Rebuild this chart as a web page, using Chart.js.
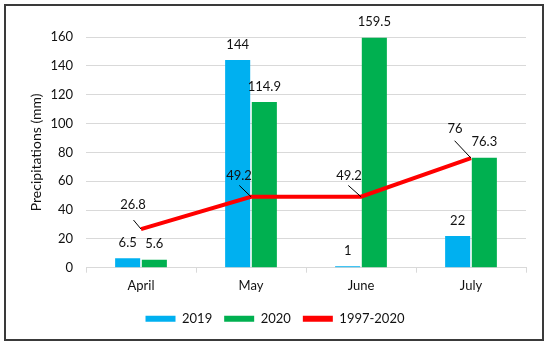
<!DOCTYPE html>
<html>
<head>
<meta charset="utf-8">
<script src="https://cdn.jsdelivr.net/npm/chart.js@4.4.1/dist/chart.umd.min.js"></script>
<style>
	body { margin: 0; background: #fff; }
	#wrap { position: relative; width: 550px; height: 347px; }
	#frame {
		position: absolute; left: 4px; top: 4px; width: 536px; height: 333px;
		border: 2px solid #3a3a3a; pointer-events: none;
	}
</style>
</head>
<body>
<div id="wrap">
	<canvas id="rainChart" width="550" height="347"></canvas>
	<div id="frame"></div>
</div>
<script>
// dane z wykresu
const months = ['April', 'May', 'June', 'July']
const rain2019 = [6.5, 144, 1, 22]
const rain2020 = [5.6, 114.9, 159.5, 76.3]
const rainMean = [26.8, 49.2, 49.2, 76]
const yTicks = [0, 20, 40, 60, 80, 100, 120, 140, 160]

const FONT = 'Lato'

// etykiety wartosci nad slupkami i przy linii
const valueLabels = {
	id: 'valueLabels',
	afterDatasetsDraw(chart, args, opts) {
		const ctx = chart.ctx
		ctx.save()
		ctx.font = '13px ' + FONT
		ctx.fillStyle = '#111'
		ctx.textAlign = 'center'
		ctx.textBaseline = 'middle'
		chart.data.datasets.forEach((ds, di) => {
			const meta = chart.getDatasetMeta(di)
			meta.data.forEach((el, i) => {
				const txt = String(ds.data[i])
				if (ds.type === 'line') {
					const [dx, dy] = opts.labelOffsets[i]
					const [lx, ly] = opts.leaderStarts[i]
					ctx.strokeStyle = '#000'
					ctx.lineWidth = 1
					ctx.beginPath()
					ctx.moveTo(el.x + lx, el.y + ly)
					ctx.lineTo(el.x, el.y)
					ctx.stroke()
					ctx.fillText(txt, el.x + dx, el.y + dy)
				} else {
					ctx.fillText(txt, el.x, el.y - 15.5)
				}
			})
		})
		ctx.restore()
	},
}

const ctx = document.getElementById('rainChart').getContext('2d')
const myChart = new Chart(ctx, {
	data: {
		labels: months,
		datasets: [
			{
				type: 'bar',
				label: '2019',
				data: rain2019,
				backgroundColor: '#00B0F0',
				categoryPercentage: 0.485,
				barPercentage: 0.94,
				order: 1,
			},
			{
				type: 'bar',
				label: '2020',
				data: rain2020,
				backgroundColor: '#00B050',
				categoryPercentage: 0.485,
				barPercentage: 0.94,
				order: 1,
			},
			{
				type: 'line',
				label: '1997-2020',
				data: rainMean,
				borderColor: '#FF0000',
				backgroundColor: '#FF0000',
				borderWidth: 4,
				pointRadius: 0,
				tension: 0,
				order: 0,
			},
		],
	},
	options: {
		responsive: false,
		animation: false,
		layout: {
			padding: { left: 24, right: 24, top: 37, bottom: 11.8 },
		},
		plugins: {
			tooltip: { enabled: false },
			legend: {
				position: 'bottom',
				labels: {
					font: { family: FONT, size: 13 },
					color: '#111',
					boxWidth: 30,
					boxHeight: 6,
					padding: 12,
					sort: (a, b) => a.datasetIndex - b.datasetIndex,
					generateLabels: chart => {
						const items = Chart.defaults.plugins.legend.labels.generateLabels(chart)
						items.forEach(item => {
							const ds = chart.data.datasets[item.datasetIndex]
							item.fillStyle = ds.type === 'line' ? ds.borderColor : ds.backgroundColor
							item.strokeStyle = 'rgba(0,0,0,0)'
							item.lineWidth = 0
						})
						return items
					},
				},
			},
			valueLabels: {
				labelOffsets: [[-8, -24], [-12, -21], [-12, -21], [-16, -29]],
				leaderStarts: [[-7.5, -9], [-11.7, -11.3], [-12.7, -11.3], [-16.4, -17.4]],
			},
		},
		scales: {
			x: {
				grid: {
					offset: true,
					drawOnChartArea: false,
					drawTicks: true,
					tickLength: 5,
					color: '#d9d9d9',
				},
				border: { color: '#d9d9d9' },
				ticks: {
					font: { family: FONT, size: 13 },
					color: '#111',
					padding: 5,
				},
				afterFit: scale => { scale.height = 32.5 },
			},
			y: {
				min: 0,
				max: 160,
				afterBuildTicks: scale => { scale.ticks = yTicks.map(v => ({ value: v })) },
				grid: { color: '#d9d9d9', drawTicks: false },
				border: { display: false },
				ticks: {
					font: { family: FONT, size: 13 },
					color: '#111',
					padding: 13,
				},
				title: {
					display: true,
					text: 'Precipitations (mm)',
					font: { family: FONT, size: 14 },
					color: '#111',
				},
				afterFit: scale => { scale.width = 62 },
			},
		},
	},
	plugins: [valueLabels],
})
</script>
</body>
</html>
